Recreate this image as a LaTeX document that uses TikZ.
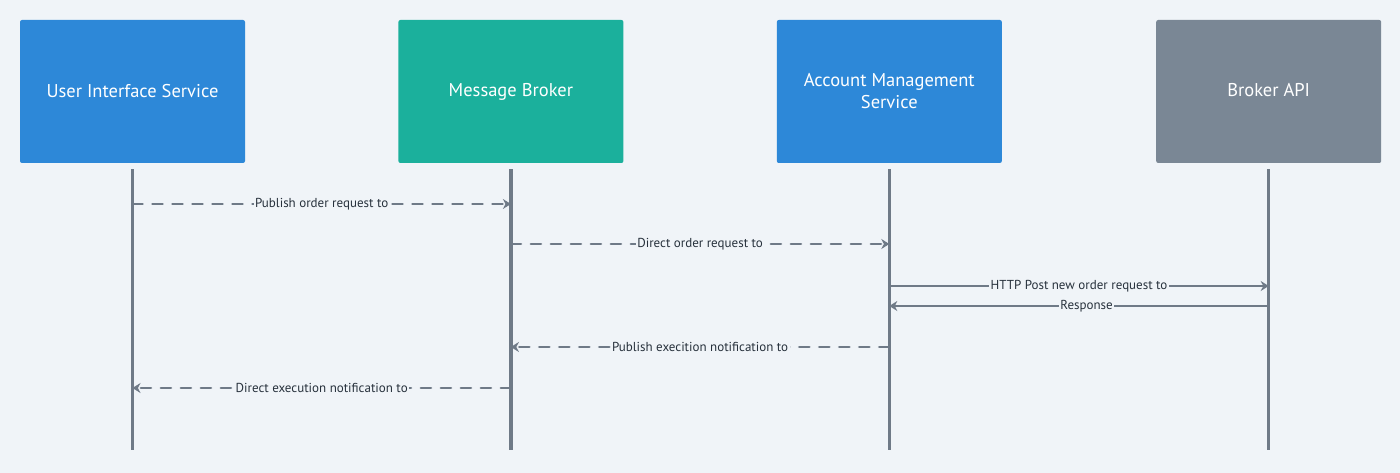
\documentclass[tikz,border=0pt]{standalone}
\usepackage{fontspec}
\setmainfont{PT Sans}
\usetikzlibrary{positioning, arrows.meta}

\definecolor{bgcol}{HTML}{F0F4F8}
\definecolor{uiblue}{HTML}{2D88D8}
\definecolor{mbteal}{HTML}{1BB09C}
\definecolor{apigray}{HTML}{7A8795}
\definecolor{linecol}{HTML}{6F7A87}
\definecolor{textcol}{HTML}{27313C}

\tikzset{
	actor/.style={rectangle, rounded corners=2pt, minimum width=225pt, minimum height=143pt,
		text=white, align=center, font=\fontsize{18.5}{22}\selectfont},
	lifeline/.style={draw=linecol, line width=3.2pt},
	msg/.style={draw=linecol, line width=2.8pt, -{Stealth[length=8pt, width=10pt]}},
	async/.style={msg, line cap=round, dash pattern=on 10pt off 10pt},
	msglabel/.style={fill=bgcol, text=textcol, inner sep=1.5pt, font=\fontsize{13}{15}\selectfont}
}

\begin{document}
\begin{tikzpicture}[x=1pt, y=-1pt]
				\fill[bgcol] (0,0) rectangle (1400,473);
				\useasboundingbox (0,0) rectangle (1400,473);
				\node[actor, fill=uiblue] (ui) at (132.5,91.5) {User Interface Service};
				\node[actor, fill=mbteal, right=153pt of ui] (mb) {Message Broker\vphantom{Ay}};
				\node[actor, fill=uiblue, right=153pt of mb] (ams) {Account Management\\Service};
				\node[actor, fill=apigray, right=154pt of ams] (api) {Broker API\vphantom{Ay}};
				% lifelines
				\foreach \who in {ui, mb, ams, api} {
					\coordinate (\who-top) at ([yshift=-6pt]\who.south);
					\coordinate (\who-bot) at (\who.south |- 0,450);
					\draw[lifeline] (\who-top) -- (\who-bot);
				}
				% message rows
				\coordinate (ui-1) at (ui.south |- 0,204);
				\coordinate (mb-1) at (mb.south |- 0,204);
				\coordinate (mb-2) at (mb.south |- 0,244);
				\coordinate (ams-2) at (ams.south |- 0,244);
				\coordinate (ams-3) at (ams.south |- 0,286);
				\coordinate (api-3) at (api.south |- 0,286);
				\coordinate (api-4) at (api.south |- 0,306);
				\coordinate (ams-4) at (ams.south |- 0,306);
				\coordinate (ams-5) at (ams.south |- 0,347);
				\coordinate (mb-5) at (mb.south |- 0,347);
				\coordinate (mb-6) at (mb.south |- 0,388);
				\coordinate (ui-6) at (ui.south |- 0,388);
				\draw (ui-1) edge[async] node[msglabel]{Publish order request to} (mb-1)
					  (mb-2) edge[async] node[msglabel]{Direct order request to} (ams-2)
					  (ams-3) edge[msg] node[msglabel]{HTTP Post new order request to} (api-3)
					  (api-4) edge[msg] node[msglabel, pos=0.48]{Response} (ams-4)
					  (ams-5) edge[async] node[msglabel]{Publish execition notification to} (mb-5)
					  (mb-6) edge[async] node[msglabel]{Direct execution notification to} (ui-6);
			\end{tikzpicture}
\end{document}
